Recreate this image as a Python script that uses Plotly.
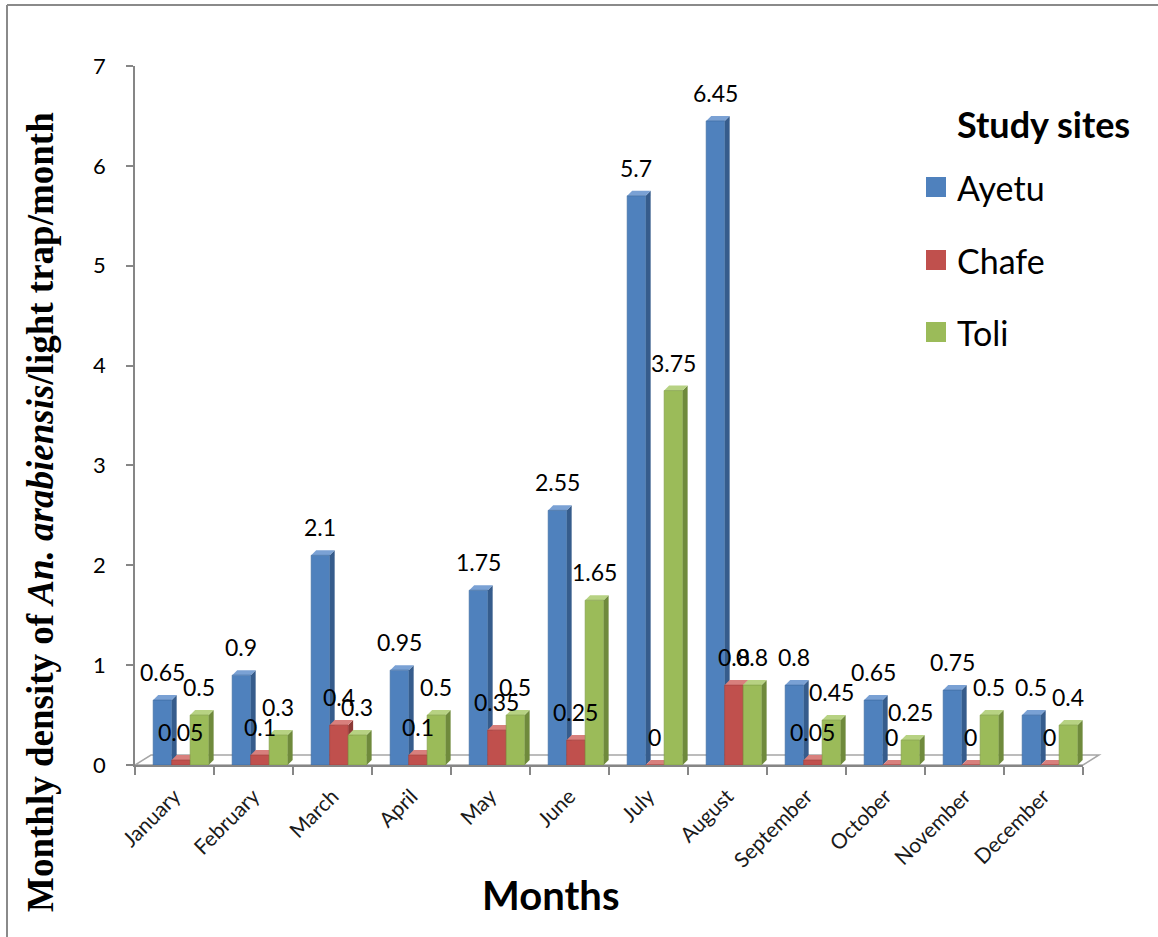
import numpy as np
import plotly.graph_objects as go

# Monthly density of An. arabiensis per light trap, by study site
months = ["January", "February", "March", "April", "May", "June", "July",
          "August", "September", "October", "November", "December"]
ayetu = [0.65, 0.9, 2.1, 0.95, 1.75, 2.55, 5.7, 6.45, 0.8, 0.65, 0.75, 0.5]
chafe = [0.05, 0.1, 0.4, 0.1, 0.35, 0.25, 0, 0.8, 0.05, 0, 0, 0]
toli = [0.5, 0.3, 0.3, 0.5, 0.5, 1.65, 3.75, 0.8, 0.45, 0.25, 0.5, 0.4]
site_names = ["Ayetu", "Chafe", "Toli"]
y_ticks = [0, 1, 2, 3, 4, 5, 6, 7]

W, H = 1158, 937
ML, MR, MT, MB = 135, 75, 66, 172
PW, PH = W - ML - MR, H - MT - MB


def px(x):
    return (x - ML) / PW


def py(y):
    return (H - MB - y) / PH


series = [ayetu, chafe, toli]
front = ["#4F81BD", "#C0504D", "#9BBB59"]
side = ["#365C8C", "#8C3936", "#6F8A3C"]
top = ["#7AA1D4", "#D8807D", "#B7D283"]
edge = ["#3D6A9E", "#A03F3C", "#7E9B45"]

bar_w = 0.234
offsets = [-0.27, -0.036, 0.198]
depth_x = 5 / (PW / 12)
depth_y = 5 / (PH / 7)

xs = np.arange(len(months))

fig = go.Figure()
shapes = []

# chart frame
shapes.append(dict(type="line", xref="paper", yref="paper",
                   x0=px(7), x1=px(7), y0=py(5), y1=py(H + 5),
                   line=dict(color="#8A8A8A", width=2)))
shapes.append(dict(type="line", xref="paper", yref="paper",
                   x0=px(7), x1=px(W + 5), y0=py(5), y1=py(5),
                   line=dict(color="#8A8A8A", width=2)))

# floor of the 3-D plot area
fl = [(135, 765), (1083, 765), (1099, 755), (151, 755)]
path = "M " + " L ".join(f"{px(a)},{py(b)}" for a, b in fl) + " Z"
shapes.append(dict(type="path", xref="paper", yref="paper", path=path,
                   fillcolor="#FFFFFF", line=dict(color="#A6A6A6", width=1.5),
                   layer="below"))

annotations = []
for k, vals in enumerate(series):
    fig.add_trace(go.Bar(
        x=xs, y=vals, name=site_names[k], width=bar_w, offset=offsets[k],
        marker=dict(color=front[k], line=dict(color=edge[k], width=0.6)),
        showlegend=False, hoverinfo="x+y+name",
    ))
    for i, v in enumerate(vals):
        x0 = i + offsets[k]
        x1 = x0 + bar_w
        # right side face
        p = (f"M {x1},0 L {x1 + depth_x},{depth_y} L {x1 + depth_x},{v + depth_y} "
             f"L {x1},{v} Z")
        shapes.append(dict(type="path", xref="x", yref="y", path=p,
                           fillcolor=side[k], line=dict(width=0), layer="below"))
        # top face
        p = (f"M {x0},{v} L {x1},{v} L {x1 + depth_x},{v + depth_y} "
             f"L {x0 + depth_x},{v + depth_y} Z")
        shapes.append(dict(type="path", xref="x", yref="y", path=p,
                           fillcolor=top[k], line=dict(width=0), layer="below"))
        annotations.append(dict(
            x=x0 + bar_w / 2, y=v, xref="x", yref="y", text=f"{v:g}",
            showarrow=False, yshift=28, yanchor="middle", xanchor="center",
            font=dict(family="Lato", size=23, color="#000000")))

# axis titles
annotations.append(dict(
    x=px(40), y=py(512), xref="paper", yref="paper", textangle=-90,
    xanchor="center", yanchor="middle",
    text="<b>Monthly density of <i>An. arabiensis</i>/light trap/month</b>",
    showarrow=False, font=dict(family="Liberation Serif", size=37, color="#000000")))
annotations.append(dict(
    x=px(550), y=py(895), xref="paper", yref="paper", text="<b>Months</b>",
    xanchor="center", yanchor="middle",
    showarrow=False, font=dict(family="Lato", size=40, color="#000000")))

# legend
annotations.append(dict(
    x=px(955), y=py(124), xref="paper", yref="paper", xanchor="left",
    yanchor="middle", text="<b>Study sites</b>", showarrow=False,
    font=dict(family="Lato", size=36, color="#000000")))
leg_y = [187, 260, 332]
for k, name in enumerate(site_names):
    shapes.append(dict(type="rect", xref="paper", yref="paper",
                       x0=px(926), x1=px(946), y0=py(leg_y[k] - 10), y1=py(leg_y[k] + 10),
                       fillcolor=front[k], line=dict(width=0)))
    annotations.append(dict(
        x=px(955), y=py(leg_y[k]), xref="paper", yref="paper", xanchor="left",
        yanchor="middle", text=name, showarrow=False,
        font=dict(family="Lato", size=34, color="#000000")))

axis_grey = "#868686"
fig.update_layout(
    width=W, height=H,
    margin=dict(l=ML, r=MR, t=MT, b=MB, pad=0),
    paper_bgcolor="white", plot_bgcolor="white",
    barmode="overlay",
    showlegend=False,
    shapes=shapes,
    annotations=annotations,
    xaxis=dict(
        range=[-0.5, len(months) - 0.5],
        tickvals=np.arange(-0.5, len(months), 1.0),
        ticks="outside", ticklen=8, tickcolor=axis_grey, tickwidth=1.5,
        showticklabels=False, showline=True, linecolor=axis_grey, linewidth=1.5,
        showgrid=False, zeroline=False, fixedrange=True,
    ),
    xaxis2=dict(
        overlaying="x", anchor="y", side="bottom",
        range=[-0.5, len(months) - 0.5],
        tickvals=xs, ticktext=months, tickangle=-45,
        ticks="", showline=False, showgrid=False, zeroline=False,
        ticklabelstandoff=14,
        tickfont=dict(family="Lato", size=21, color="#1A1A1A"),
    ),
    yaxis=dict(
        range=[0, 7], tickvals=y_ticks,
        ticks="outside", ticklen=7, tickcolor=axis_grey, tickwidth=1.5,
        showline=True, linecolor=axis_grey, linewidth=1.5,
        showgrid=False, zeroline=False, ticklabelstandoff=16,
        tickfont=dict(family="Lato", size=22, color="#000000"),
    ),
)

# invisible trace so the month labels axis is drawn
fig.add_trace(go.Scatter(x=xs, y=[None] * len(xs), xaxis="x2", yaxis="y",
                         mode="markers", showlegend=False, hoverinfo="skip"))

fig.write_html("out.html")
